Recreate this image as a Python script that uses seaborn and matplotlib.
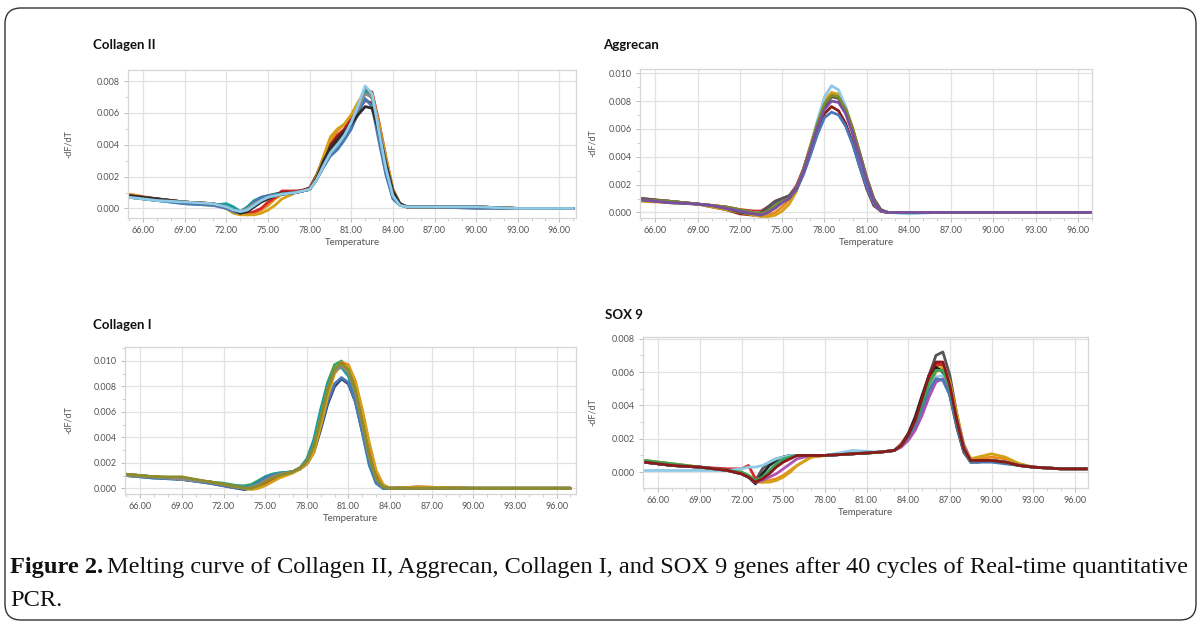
import matplotlib
matplotlib.use("Agg")
import matplotlib.pyplot as plt
from matplotlib.patches import FancyBboxPatch
from matplotlib.transforms import IdentityTransform
from matplotlib.ticker import MultipleLocator, FormatStrFormatter
import seaborn as sns
import pandas as pd

# melt curves, -dF/dT in units of 1e-4

# Collagen II
col2_temp = [65, 67, 69, 71, 72, 72.5, 73, 73.5, 74, 74.5, 75, 75.5, 76, 77, 78, 78.5, 79,
             79.5, 80, 80.5, 81, 81.5, 82, 82.5, 83, 83.5, 84, 84.5, 85, 87, 90, 93, 97]
col2_runs = [
    [9, 6, 4, 3, 1, -1, -3, -4, -3, -1, 2, 6, 9, 10, 12, 19, 30, 42, 49, 53, 58, 66, 74, 72, 52, 30, 11, 3, 1, 1, 1, 0, 0],
    [8, 6, 4, 3, 1, -2, -3, -3, -2, 0, 4, 7, 11, 11, 12, 19, 29, 39, 46, 50, 57, 66, 75, 73, 54, 32, 12, 3, 1, 1, 1, 0, 0],
    [8, 6, 4, 3, 0, -2, -3, -1, 3, 6, 8, 9, 10, 10, 13, 21, 32, 40, 45, 49, 55, 62, 68, 66, 48, 27, 10, 3, 1, 1, 1, 0, 0],
    [7, 5, 4, 3, 0, -3, -4, -4, -4, -3, -1, 2, 6, 10, 12, 20, 33, 45, 50, 53, 59, 67, 73, 71, 53, 32, 12, 3, 1, 1, 1, 0, 0],
    [7, 5, 3, 2, 3, 1, -2, 1, 5, 7, 8, 9, 9, 10, 12, 18, 27, 34, 38, 44, 52, 62, 74, 69, 45, 22, 7, 2, 1, 1, 1, 0, 0],
    [7, 5, 3, 2, 0, -2, -3, 0, 4, 7, 8, 8, 9, 10, 12, 18, 26, 33, 37, 43, 50, 60, 69, 64, 42, 21, 6, 2, 1, 1, 0, 0, 0],
    [8, 6, 4, 3, 1, -1, -2, 0, 3, 5, 7, 8, 9, 10, 12, 18, 28, 36, 41, 47, 54, 63, 72, 70, 50, 28, 10, 3, 1, 1, 1, 0, 0],
    [8, 6, 4, 3, 1, -1, -3, -2, 1, 4, 6, 8, 9, 10, 12, 19, 30, 38, 43, 48, 53, 59, 64, 63, 48, 28, 11, 3, 1, 1, 1, 0, 0],
    [7, 5, 4, 3, 1, -1, -2, -1, 2, 5, 7, 8, 9, 10, 12, 18, 27, 35, 40, 46, 54, 65, 77, 72, 48, 25, 8, 2, 1, 1, 1, 0, 0],
]
col2_colors = ["#e8891c", "#d62728", "#8b1a1a", "#d4a017", "#1a9e9e", "#4a78b5", "#8a8a8a", "#2b2b2b", "#8ecae6"]

# Aggrecan
agg_temp = [65, 67, 69, 70, 71, 72, 73, 73.5, 74, 74.5, 75, 75.5, 76, 76.5, 77, 77.5, 78, 78.5,
            79, 79.5, 80, 80.5, 81, 81.5, 82, 82.5, 84, 86, 88, 90, 93, 97]
agg_runs = [
    [9, 8, 6, 5, 4, 2, 0, -1, -2, 0, 4, 9, 18, 31, 48, 65, 80, 86, 83, 73, 58, 40, 22, 8, 1, 0, 0, 0, 0, 0, 0, 0],
    [10, 8, 6, 5, 4, 2, 1, 1, 4, 8, 10, 12, 19, 31, 47, 63, 77, 84, 82, 72, 57, 38, 20, 6, 1, 0, 0, 0, 0, 0, 0, 0],
    [9, 8, 6, 4, 2, -1, -2, -1, 3, 7, 9, 11, 17, 28, 43, 58, 71, 76, 73, 64, 50, 33, 17, 5, 1, 0, 0, 0, 0, 0, 0, 0],
    [8, 7, 6, 4, 2, 0, -2, -3, -3, -2, 1, 6, 15, 29, 47, 64, 79, 86, 85, 76, 61, 43, 25, 10, 2, 0, 0, 0, 0, 0, 0, 0],
    [9, 8, 6, 5, 3, 1, 0, 0, 3, 7, 10, 12, 18, 30, 47, 66, 83, 91, 88, 76, 59, 40, 21, 7, 1, 0, -1, 0, 0, 0, 0, 0],
    [9, 7, 6, 5, 3, 1, -1, -1, 2, 6, 9, 11, 16, 27, 41, 56, 68, 72, 70, 62, 49, 33, 18, 6, 1, 0, 0, 0, 0, 0, 0, 0],
    [10, 8, 6, 5, 3, 0, -1, 0, 4, 8, 10, 12, 18, 30, 46, 62, 76, 83, 82, 74, 60, 43, 25, 10, 2, 0, 0, 0, 0, 0, 0, 0],
    [9, 8, 6, 5, 4, 2, 0, -1, 1, 5, 8, 10, 17, 30, 47, 64, 78, 84, 83, 74, 60, 42, 24, 9, 1, 0, 0, 0, 0, 0, 0, 0],
    [9, 7, 6, 5, 3, 1, -1, -2, 0, 3, 7, 10, 17, 29, 45, 61, 74, 80, 79, 71, 57, 40, 23, 8, 1, 0, 0, 0, 0, 0, 0, 0],
]
agg_colors = ["#e8891c", "#d62728", "#8b1a1a", "#d4a017", "#8ecae6", "#4a78b5", "#555555", "#7a8c2c", "#7b4fa0"]

# Collagen I
col1_temp = [65, 67, 69, 71, 72, 73, 73.5, 74, 74.5, 75, 75.5, 76, 77, 77.5, 78, 78.5, 79, 79.5,
             80, 80.5, 81, 81.5, 82, 82.5, 83, 83.5, 84, 86, 90, 93, 97]
col1_runs = [
    [11, 9, 8, 5, 4, 2, 2, 3, 6, 9, 11, 12, 13, 16, 21, 35, 60, 83, 97, 100, 94, 78, 52, 26, 8, 1, 0, 0, 0, 0, 0],
    [10, 9, 7, 5, 3, 2, 1, 1, 2, 5, 8, 11, 13, 16, 20, 30, 52, 76, 92, 99, 97, 84, 60, 33, 12, 2, 0, 1, 0, 0, 0],
    [10, 9, 7, 5, 3, 1, 0, 0, 1, 3, 6, 9, 13, 16, 20, 31, 53, 76, 92, 98, 95, 82, 58, 31, 11, 2, 0, 1, 0, 0, 0],
    [11, 9, 7, 4, 2, 0, -1, 0, 4, 8, 10, 11, 13, 15, 19, 28, 46, 66, 80, 86, 82, 68, 45, 21, 5, 0, 0, 0, 0, 0, 0],
    [10, 8, 7, 5, 3, 2, 1, 2, 5, 9, 11, 12, 13, 16, 23, 38, 62, 82, 93, 95, 88, 70, 44, 18, 4, 0, 0, 0, 0, 0, 0],
    [10, 8, 7, 4, 2, 0, 0, 1, 4, 8, 10, 11, 13, 15, 20, 30, 48, 68, 82, 87, 83, 68, 44, 20, 4, 0, 0, 0, 0, 0, 0],
    [11, 9, 8, 5, 3, 1, 0, -1, 0, 2, 5, 8, 12, 15, 19, 28, 49, 72, 90, 97, 96, 84, 62, 36, 14, 3, 0, 1, 0, 0, 0],
    [10, 9, 7, 5, 3, 1, 0, 1, 3, 6, 9, 11, 13, 16, 21, 33, 56, 78, 92, 96, 91, 75, 50, 24, 7, 1, 0, 0, 0, 0, 0],
    [11, 9, 9, 5, 3, 1, 0, 0, 2, 5, 8, 10, 13, 16, 21, 33, 55, 78, 94, 98, 93, 77, 52, 26, 8, 1, 0, 0, 0, 0, 0],
]
col1_colors = ["#3aa55a", "#e8891c", "#d62728", "#2c3e6b", "#1a9e9e", "#4a78b5", "#d4a017", "#8a8a8a", "#8c8c2c"]

# SOX 9
sox_temp = [65, 67, 69, 71, 72, 72.5, 73, 73.5, 74, 74.5, 75, 75.5, 76, 77, 78, 80, 82, 83, 83.5,
            84, 84.5, 85, 85.5, 86, 86.5, 87, 87.5, 88, 88.5, 89, 90, 91, 92, 93, 95, 97]
sox_runs = [
    [6, 4, 3, 1, -1, -3, -5, 2, 6, 8, 9, 10, 10, 10, 10, 11, 12, 13, 16, 22, 30, 42, 58, 70, 72, 58, 35, 15, 7, 7, 7, 6, 4, 3, 2, 2],
    [7, 5, 3, 1, -1, -3, -6, -6, -5, -4, -2, 1, 4, 9, 10, 11, 12, 13, 16, 21, 28, 38, 52, 63, 65, 54, 33, 15, 7, 8, 9, 8, 5, 3, 2, 2],
    [6, 4, 3, 2, 2, 4, -4, -3, 0, 4, 7, 9, 10, 10, 10, 11, 12, 13, 17, 23, 31, 43, 56, 65, 64, 50, 29, 13, 6, 7, 7, 6, 4, 3, 2, 2],
    [7, 5, 3, 1, 0, -2, -5, -6, -6, -5, -3, 0, 4, 9, 10, 11, 12, 13, 16, 21, 28, 38, 50, 60, 63, 54, 35, 17, 8, 9, 11, 9, 5, 3, 2, 2],
    [6, 4, 3, 1, -1, -3, -7, -1, 4, 7, 9, 10, 10, 10, 10, 11, 12, 13, 16, 23, 33, 46, 58, 63, 60, 46, 27, 12, 6, 6, 7, 6, 4, 3, 2, 2],
    [1, 1, 1, 1, 2, 3, 3, 4, 6, 8, 9, 10, 10, 10, 10, 13, 12, 13, 16, 21, 28, 38, 49, 57, 58, 48, 29, 13, 6, 7, 7, 6, 4, 3, 2, 2],
    [6, 4, 3, 1, -1, -3, -6, -5, -3, -1, 2, 5, 8, 10, 10, 11, 12, 13, 15, 19, 25, 34, 45, 54, 56, 48, 32, 16, 7, 7, 7, 6, 4, 3, 2, 2],
    [6, 4, 3, 1, -1, -3, -6, -4, 0, 4, 7, 9, 10, 10, 10, 11, 12, 13, 16, 21, 28, 38, 49, 56, 55, 46, 28, 13, 6, 6, 6, 5, 4, 3, 2, 2],
    [7, 5, 3, 1, 0, -2, -5, -3, 1, 5, 8, 9, 10, 10, 10, 11, 12, 13, 16, 22, 30, 41, 53, 61, 61, 50, 31, 14, 7, 7, 7, 6, 4, 3, 2, 2],
    [6, 4, 3, 1, -1, -3, -6, -4, -1, 3, 6, 8, 10, 10, 10, 11, 12, 13, 16, 22, 31, 44, 58, 66, 66, 52, 31, 14, 7, 7, 7, 6, 4, 3, 2, 2],
]
sox_colors = ["#555555", "#e8891c", "#d62728", "#d4a017", "#222222", "#8ecae6", "#b050b0", "#4a78b5", "#3aa55a", "#8b1a1a"]

x_ticks = [66, 69, 72, 75, 78, 81, 84, 87, 90, 93, 96]

sns.set_style("white")
plt.rcParams["font.family"] = ["Lato", "DejaVu Sans"]

W, H = 1200, 625
fig = plt.figure(figsize=(W / 100, H / 100), dpi=100)


def px_axes(l, t, r, b):
    return fig.add_axes([l / W, 1 - b / H, (r - l) / W, (b - t) / H])


def draw_panel(box, temps, runs, colors, xlim, ylim, ystep, title, title_xy, ylabel_x):
    ax = px_axes(*box)
    rows = []
    for i, run in enumerate(runs):
        for t, v in zip(temps, run):
            rows.append((t, v * 1e-4, i))
    df = pd.DataFrame(rows, columns=["Temperature", "dF", "run"])
    sns.lineplot(data=df, x="Temperature", y="dF", hue="run", palette=colors,
                 legend=False, linewidth=2.0, estimator=None, sort=False, ax=ax)
    ax.set_xlim(*xlim)
    ax.set_ylim(*ylim)
    ax.set_xticks(x_ticks)
    ax.xaxis.set_major_formatter(FormatStrFormatter("%.2f"))
    ax.xaxis.set_minor_locator(MultipleLocator(1))
    ax.yaxis.set_major_locator(MultipleLocator(ystep))
    ax.yaxis.set_minor_locator(MultipleLocator(ystep / 2))
    ax.yaxis.set_major_formatter(FormatStrFormatter("%.3f"))
    ax.grid(True, which="major", color="#e2e2e2", linewidth=0.9)
    ax.set_axisbelow(True)
    for s in ax.spines.values():
        s.set_color("#d6d6d6")
        s.set_linewidth(0.9)
    ax.tick_params(which="major", length=3, width=0.7, color="#bbbbbb",
                   labelsize=6.5, labelcolor="#555555", pad=3)
    ax.tick_params(which="minor", length=2, width=0.6, color="#c8c8c8")
    ax.tick_params(axis="both", which="both", bottom=True, left=True)
    ax.set_xlabel("Temperature", fontsize=7, color="#555555", labelpad=2)
    ax.set_ylabel("-dF/dT", fontsize=6.5, color="#555555")
    w = box[2] - box[0]
    ax.yaxis.set_label_coords((ylabel_x - box[0]) / w, 0.5)
    fig.text(title_xy[0] / W, 1 - title_xy[1] / H, title, fontsize=9.5,
             fontweight="bold", color="#111111", va="center", ha="left")
    return ax


draw_panel((128, 70, 576, 218), col2_temp, col2_runs, col2_colors,
           (64.9, 97.2), (-0.0006, 0.0087), 0.002, "Collagen II", (93, 45), 73)
draw_panel((640, 69, 1092, 218), agg_temp, agg_runs, agg_colors,
           (64.9, 97.0), (-0.0004, 0.0103), 0.002, "Aggrecan", (603, 45), 597)
draw_panel((125, 347, 576, 494), col1_temp, col1_runs, col1_colors,
           (64.9, 97.4), (-0.00045, 0.0111), 0.002, "Collagen I", (93, 325), 73)
draw_panel((643, 337, 1088, 488), sox_temp, sox_runs, sox_colors,
           (64.9, 96.95), (-0.00095, 0.0081), 0.002, "SOX 9", (605, 315), 597)

# caption
serif = ["Liberation Serif", "DejaVu Serif"]
cap_size = 17.6
renderer = fig.canvas.get_renderer()
t_bold = fig.text(10 / W, 1 - 567 / H, "Figure 2.", family=serif, fontsize=cap_size,
                  fontweight="bold", va="center", ha="left", color="#111111")
bb = t_bold.get_window_extent(renderer)
fig.text((bb.x1 + 4) / W, 1 - 567 / H,
         "Melting curve of Collagen II, Aggrecan, Collagen I, and SOX 9 genes after 40 cycles of Real-time quantitative",
         family=serif, fontsize=cap_size, va="center", ha="left", color="#111111")
fig.text(10 / W, 1 - 601 / H, "PCR.", family=serif, fontsize=cap_size, va="center",
         ha="left", color="#111111")

# rounded frame around the figure
frame = FancyBboxPatch((5, 5), W - 9, H - 13, boxstyle="round,pad=0,rounding_size=16",
                       transform=IdentityTransform(), facecolor="none",
                       edgecolor="#333333", linewidth=1.0)
fig.add_artist(frame)

fig.savefig("out.png", dpi=100)
